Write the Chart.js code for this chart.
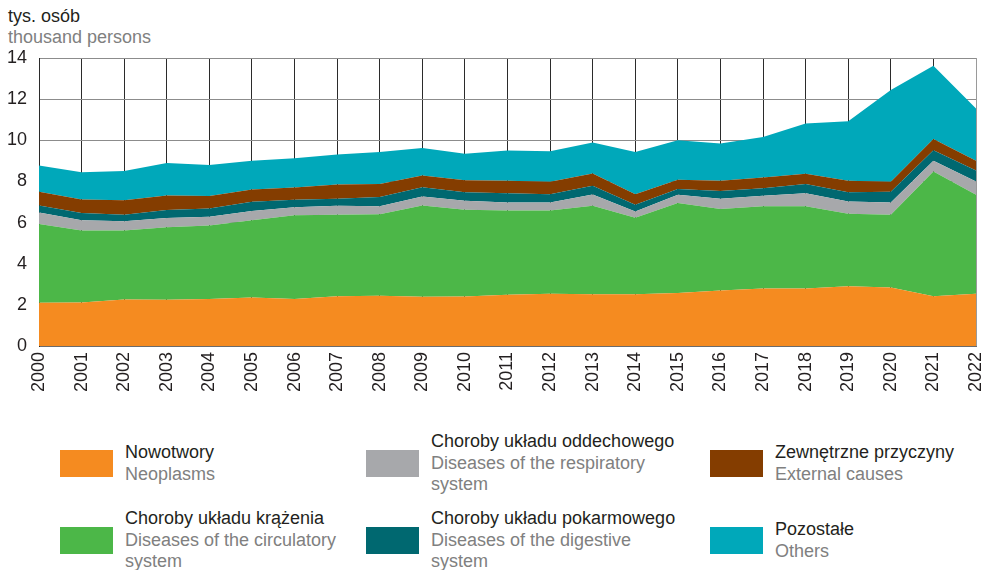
<!DOCTYPE html>
<html>
<head>
<meta charset="utf-8">
<script src="https://cdn.jsdelivr.net/npm/chart.js@4"></script>
<style>
  body { margin: 0; background: #fff; font-family: "Liberation Sans", Arial, sans-serif; }
  #wrap { position: relative; width: 992px; height: 570px; overflow: hidden; }
  #chartBox { position: absolute; left: 0; top: 0; width: 992px; height: 420px; }
  .unit { position: absolute; left: 8px; font-size: 18px; line-height: 21px; }
  .item { position: absolute; height: 80px; display: flex; align-items: center; }
  .sw { width: 53px; height: 27px; margin-right: 12px; flex: none; }
  .txt { font-size: 18px; line-height: 21.5px; }
  .pl { color: #231f20; }
  .en { color: #808080; }
</style>
</head>
<body>
<div id="wrap">
  <div class="unit pl" style="top:6px">tys. osób</div>
  <div class="unit en" style="top:27px">thousand persons</div>
  <div id="chartBox"><canvas id="areaChart" width="992" height="420"></canvas></div>
  <div id="legend"></div>
</div>
<script>
// thousand persons
const years = ['2000','2001','2002','2003','2004','2005','2006','2007','2008','2009','2010','2011',
  '2012','2013','2014','2015','2016','2017','2018','2019','2020','2021','2022'];

const neoplasms   = [2.10,2.12,2.26,2.25,2.29,2.36,2.29,2.42,2.44,2.39,2.41,2.49,2.54,2.52,2.52,2.58,2.70,2.79,2.79,2.91,2.84,2.42,2.54];
const circulatory = [3.83,3.50,3.36,3.52,3.57,3.75,4.06,3.96,3.97,4.44,4.21,4.10,4.05,4.30,3.72,4.37,3.96,4.00,4.00,3.52,3.54,6.06,4.81];
const respiratory = [0.56,0.49,0.44,0.45,0.42,0.45,0.39,0.44,0.38,0.44,0.44,0.39,0.39,0.55,0.30,0.40,0.50,0.51,0.64,0.60,0.60,0.53,0.65];
const digestive   = [0.34,0.35,0.32,0.39,0.41,0.45,0.37,0.34,0.45,0.45,0.42,0.44,0.40,0.42,0.33,0.28,0.37,0.37,0.45,0.45,0.52,0.51,0.53];
const external    = [0.67,0.66,0.70,0.71,0.60,0.60,0.60,0.69,0.63,0.57,0.58,0.61,0.60,0.59,0.51,0.45,0.50,0.52,0.49,0.55,0.48,0.54,0.47];
const others      = [1.27,1.33,1.43,1.57,1.51,1.39,1.42,1.46,1.56,1.34,1.29,1.47,1.49,1.51,2.05,1.92,1.81,1.97,2.45,2.89,4.46,3.56,2.55];

const yTicks = [0, 2, 4, 6, 8, 10, 12, 14];

const series = [
  { pl: 'Nowotwory', en: ['Neoplasms'], data: neoplasms, color: '#f58b20' },
  { pl: 'Choroby układu krążenia', en: ['Diseases of the circulatory', 'system'], data: circulatory, color: '#4cb748' },
  { pl: 'Choroby układu oddechowego', en: ['Diseases of the respiratory', 'system'], data: respiratory, color: '#a7a8ab' },
  { pl: 'Choroby układu pokarmowego', en: ['Diseases of the digestive', 'system'], data: digestive, color: '#006870' },
  { pl: 'Zewnętrzne przyczyny', en: ['External causes'], data: external, color: '#843d00' },
  { pl: 'Pozostałe', en: ['Others'], data: others, color: '#00a8ba' }
];

// legend order: column by column, two rows
const legendSlots = [
  { x: 60, cy: 463.5 }, { x: 60, cy: 540.5 },
  { x: 366, cy: 463.5 }, { x: 366, cy: 540.5 },
  { x: 710, cy: 463.5 }, { x: 710, cy: 540.5 }
];

function buildLegend() {
  const box = document.getElementById('legend');
  series.forEach(function (s, i) {
    const slot = legendSlots[i];
    const el = document.createElement('div');
    el.className = 'item';
    el.style.left = slot.x + 'px';
    el.style.top = (slot.cy - 40) + 'px';
    let html = '<div class="sw" style="background:' + s.color + '"></div><div class="txt">';
    html += '<div class="pl">' + s.pl + '</div>';
    s.en.forEach(function (line) { html += '<div class="en">' + line + '</div>'; });
    html += '</div>';
    el.innerHTML = html;
    box.appendChild(el);
  });
}

const FONT = { family: '"Liberation Sans", Arial, sans-serif', size: 18 };

new Chart(document.getElementById('areaChart'), {
  type: 'line',
  data: {
    labels: years,
    datasets: series.map(function (s, i) {
      return {
        label: s.pl,
        data: s.data,
        backgroundColor: s.color,
        borderWidth: 0,
        pointRadius: 0,
        tension: 0,
        fill: i === 0 ? 'origin' : '-1'
      };
    })
  },
  options: {
    responsive: false,
    animation: false,
    layout: { padding: { left: 0, top: 58, right: 16, bottom: 0 } },
    plugins: { legend: { display: false }, tooltip: { enabled: false } },
    scales: {
      x: {
        z: 1,
        offset: false,
        grid: {
          drawTicks: false,
          color: function (ctx) { return ctx.index === years.length - 1 ? '#9a9a9a' : '#2b2b2b'; },
          lineWidth: 1
        },
        border: { color: '#6b6b6b' },
        ticks: { font: FONT, color: '#231f20', minRotation: 90, maxRotation: 90, padding: 6, autoSkip: false },
        afterFit: function (s) {
          s.height = 420 - 346;
          s.paddingLeft = 0;
          s.paddingRight = 0;
        }
      },
      y: {
        z: 1,
        stacked: true,
        min: 0,
        max: 14,
        afterBuildTicks: function (s) { s.ticks = yTicks.map(function (v) { return { value: v }; }); },
        grid: { drawTicks: false, color: '#8c8c8c', lineWidth: 1 },
        border: { color: '#2b2b2b' },
        ticks: { font: FONT, color: '#231f20', padding: 12 },
        afterFit: function (s) { s.width = 39; }
      }
    }
  }
});

buildLegend();
</script>
</body>
</html>
